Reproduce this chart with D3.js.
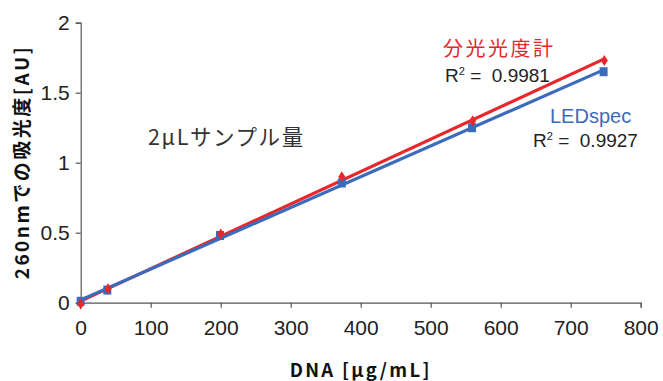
<!DOCTYPE html>
<html>
<head>
<meta charset="utf-8">
<script src="https://cdn.jsdelivr.net/npm/d3@7"></script>
<style>
  body { margin: 0; background: #fff; }
  text { font-family: "Liberation Sans", Arial, "Noto Sans CJK JP", sans-serif; }
</style>
</head>
<body>
<script>
// data
var dnaConc = [0, 39, 200, 373, 560, 748];
var specAbs = [-0.01, 0.10, 0.49, 0.90, 1.30, 1.73];   // 分光光度計
var ledConc = [0, 38, 199, 373, 559, 747];
var ledAbs = [0.01, 0.09, 0.48, 0.855, 1.25, 1.65];    // LEDspec
var xTicks = [0, 100, 200, 300, 400, 500, 600, 700, 800];
var yTicks = [0, 0.5, 1, 1.5, 2];

var red = "#e8262c", blue = "#3b6cbc";

var margin = {top: 22.7, right: 22, bottom: 78, left: 80.7},
    width = 663 - margin.left - margin.right,
    height = 381 - margin.top - margin.bottom;

var svg = d3.select("body").append("svg")
    .attr("width", 663)
    .attr("height", 381)
  .append("g")
    .attr("transform", "translate(" + margin.left + "," + margin.top + ")");

var x = d3.scaleLinear().domain([0, 800]).range([0, 560]);
var y = d3.scaleLinear().domain([0, 2]).range([280, 0]);

// axes
var xAxis = svg.append("g")
    .attr("transform", "translate(0,280)")
    .call(d3.axisBottom(x).tickValues(xTicks).tickSize(5).tickPadding(8).tickFormat(d3.format("d")));
var yAxis = svg.append("g")
    .call(d3.axisLeft(y).tickValues(yTicks).tickSize(5).tickPadding(6).tickFormat(function(d){ return String(d); }));
[xAxis, yAxis].forEach(function(a){
  a.select(".domain").attr("stroke", "#555").attr("stroke-width", 1.2);
  a.selectAll(".tick line").attr("stroke", "#555").attr("stroke-width", 1.2);
  a.selectAll("text").attr("fill", "#222").style("font-size", "21px")
    .style("font-family", "'Liberation Sans', Arial, sans-serif");
});
xAxis.selectAll("text").attr("dy", "0.9em");

// least squares trend line
function fit(xs, ys){
  var mx = d3.mean(xs), my = d3.mean(ys), sxy = 0, sxx = 0;
  xs.forEach(function(v, i){ sxy += (v - mx) * (ys[i] - my); sxx += (v - mx) * (v - mx); });
  var b = sxy / sxx;
  return {b: b, a: my - b * mx};
}
function trend(xs, ys, col){
  var f = fit(xs, ys), x1 = d3.max(xs);
  svg.append("line")
    .attr("x1", x(0)).attr("y1", y(f.a))
    .attr("x2", x(x1)).attr("y2", y(f.a + f.b * x1))
    .attr("stroke", col).attr("stroke-width", 3.2);
}
trend(dnaConc, specAbs, red);
trend(ledConc, ledAbs, blue);

// markers
svg.selectAll(".sq").data(ledConc).enter().append("rect")
    .attr("class", "sq")
    .attr("x", function(d){ return x(d) - 4; })
    .attr("y", function(d, i){ return y(ledAbs[i]) - 4.5; })
    .attr("width", 8).attr("height", 9)
    .attr("fill", blue);
svg.selectAll(".dm").data(dnaConc).enter().append("path")
    .attr("class", "dm")
    .attr("transform", function(d, i){ return "translate(" + x(d) + "," + y(specAbs[i]) + ")"; })
    .attr("d", "M0,-5.5L3.5,0L0,5.5L-3.5,0Z")
    .attr("fill", red);

// annotations
var g = d3.select("svg");
g.append("text").attr("x", 443).attr("y", 56).attr("fill", red)
  .style("font-size", "20px").style("letter-spacing", "2.5px")
  .style("font-family", "'Noto Sans CJK JP', sans-serif").text("分光光度計");
function rsq(x0, y0, val){
  var t = g.append("text").attr("x", x0).attr("y", y0).attr("fill", "#222")
    .style("font-size", "19px").attr("xml:space", "preserve");
  t.append("tspan").text("R");
  t.append("tspan").attr("dy", -7).style("font-size", "11px").text("2");
  t.append("tspan").attr("dy", 7).text(" =  " + val);
}
rsq(445, 82, "0.9981");
g.append("text").attr("x", 550).attr("y", 123).attr("fill", blue)
  .style("font-size", "20px").text("LEDspec");
rsq(533, 147, "0.9927");
g.append("text").attr("x", 148).attr("y", 145).attr("fill", "#333")
  .style("font-size", "21.5px").style("letter-spacing", "1.6px")
  .style("font-family", "'Noto Sans CJK JP', sans-serif").text("2μLサンプル量");

// axis titles
g.append("text").attr("x", 80.7 + 280).attr("y", 377).attr("text-anchor", "middle")
  .attr("fill", "#111").style("font-size", "18.5px").style("font-weight", "bold").style("letter-spacing", "2.3px")
  .style("font-family", "'Noto Sans CJK JP', sans-serif").text("DNA [μg/mL]");
g.append("text").attr("transform", "translate(29,162) rotate(-90)").attr("text-anchor", "middle")
  .attr("fill", "#111").style("font-size", "19px").style("font-weight", "bold").style("letter-spacing", "2.5px")
  .style("font-family", "'Noto Sans CJK JP', sans-serif").text("260nmでの吸光度[AU]");
</script>
</body>
</html>
